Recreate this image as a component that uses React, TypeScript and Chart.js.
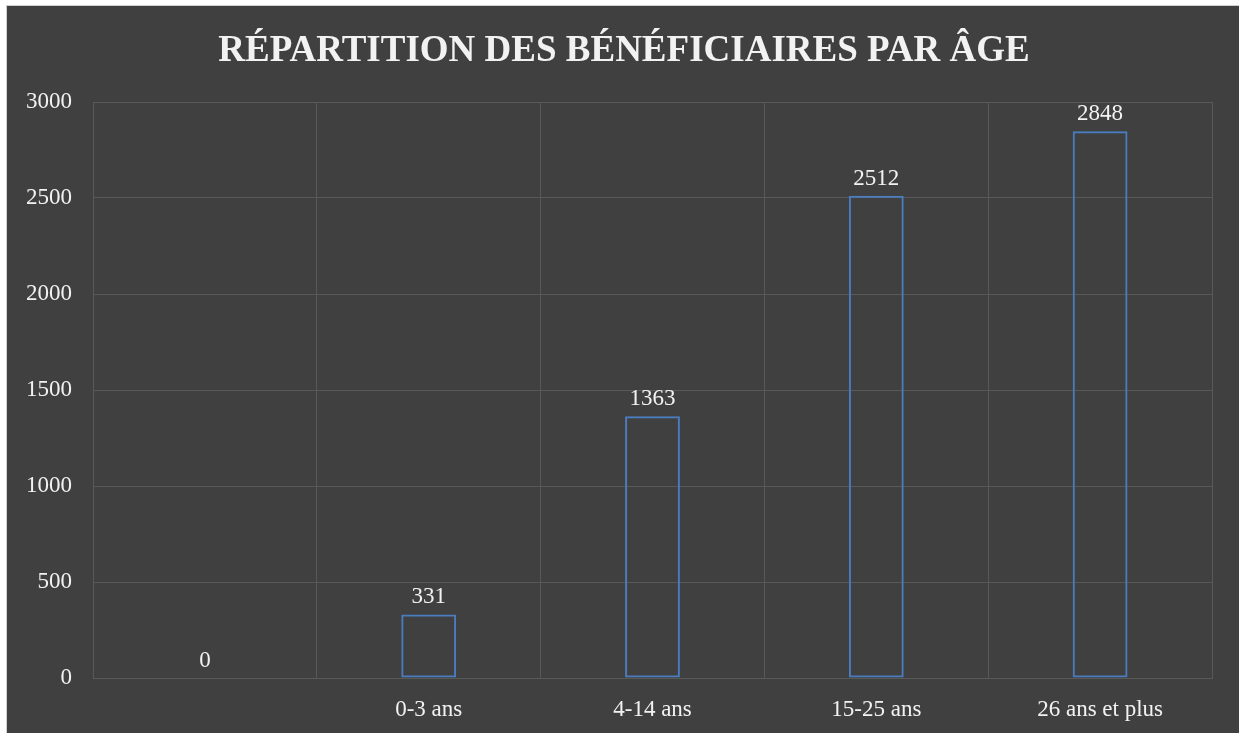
import React, { useEffect, useRef } from "react";
import { Chart, registerables } from "chart.js";

Chart.register(...registerables);

const TITLE = "RÉPARTITION DES BÉNÉFICIAIRES PAR ÂGE";
const categories = ["", "0-3 ans", "4-14 ans", "15-25 ans", "26 ans et plus"];
const values = [0, 331, 1363, 2512, 2848];
const yTicks = [0, 500, 1000, 1500, 2000, 2500, 3000];

const FONT = "'Liberation Serif', 'Times New Roman', serif";
const TEXT = "#f2f2f2";
const GRID = "#595959";
const BAR = "#4a7dbf";
const BG = "#404040";

export default function App() {
  const ref = useRef<HTMLCanvasElement | null>(null);

  useEffect(() => {
    const canvas = ref.current;
    if (!canvas) return;

    const bgPlugin = {
      id: "bg",
      beforeDraw(chart: any) {
        const { ctx, width, height } = chart;
        ctx.save();
        ctx.fillStyle = "#ffffff";
        ctx.fillRect(0, 0, width, height);
        ctx.fillStyle = "#d0d0d0";
        ctx.fillRect(6, 5, width - 6, height - 5);
        ctx.fillStyle = BG;
        ctx.fillRect(7, 6, width - 7, height - 6);
        ctx.restore();
      },
    };

    const titlePlugin = {
      id: "titleDraw",
      afterDraw(chart: any) {
        const { ctx } = chart;
        ctx.save();
        ctx.fillStyle = TEXT;
        ctx.font = `bold 37px ${FONT}`;
        ctx.textAlign = "center";
        ctx.textBaseline = "alphabetic";
        ctx.fillText(TITLE, 624, 61);
        ctx.restore();
      },
    };

    const labelPlugin = {
      id: "dataLabels",
      afterDatasetsDraw(chart: any) {
        const { ctx } = chart;
        const meta = chart.getDatasetMeta(0);
        ctx.save();
        ctx.fillStyle = TEXT;
        ctx.font = `23px ${FONT}`;
        ctx.textAlign = "center";
        ctx.textBaseline = "alphabetic";
        meta.data.forEach((el: any, i: number) => {
          ctx.fillText(String(values[i]), el.x, el.y - 11);
        });
        ctx.restore();
      },
    };

    const chart = new Chart(canvas, {
      type: "bar",
      data: {
        labels: categories,
        datasets: [
          {
            data: values,
            backgroundColor: "rgba(0,0,0,0)",
            borderColor: BAR,
            borderWidth: 2,
            borderSkipped: false,
            categoryPercentage: 1,
            barPercentage: 0.245,
          },
        ],
      },
      options: {
        responsive: false,
        animation: false,
        layout: { padding: { top: 102, right: 27, left: 0, bottom: 0 } },
        plugins: {
          legend: { display: false },
          title: { display: false },
          tooltip: { enabled: false },
        },
        scales: {
          x: {
            grid: { color: GRID, lineWidth: 1, drawTicks: false, offset: true },
            border: { color: GRID, width: 1 },
            ticks: {
              color: TEXT,
              font: { family: FONT, size: 23 },
              padding: 18,
              maxRotation: 0,
              autoSkip: false,
            },
            afterFit(scale: any) {
              scale.height = 55;
            },
          },
          y: {
            min: 0,
            max: 3000,
            grid: { color: GRID, lineWidth: 1, drawTicks: false },
            border: { color: GRID, width: 1 },
            afterBuildTicks(scale: any) {
              scale.ticks = yTicks.map((v) => ({ value: v }));
            },
            ticks: {
              color: TEXT,
              font: { family: FONT, size: 23 },
              padding: 21,
              callback: (v: any) => String(v),
            },
            afterFit(scale: any) {
              scale.width = 93;
            },
          },
        },
      },
      plugins: [bgPlugin, labelPlugin, titlePlugin],
    });

    return () => chart.destroy();
  }, []);

  return (
    <canvas
      ref={ref}
      width={1239}
      height={733}
      style={{ position: "absolute", left: 0, top: 0, display: "block" }}
    />
  );
}
